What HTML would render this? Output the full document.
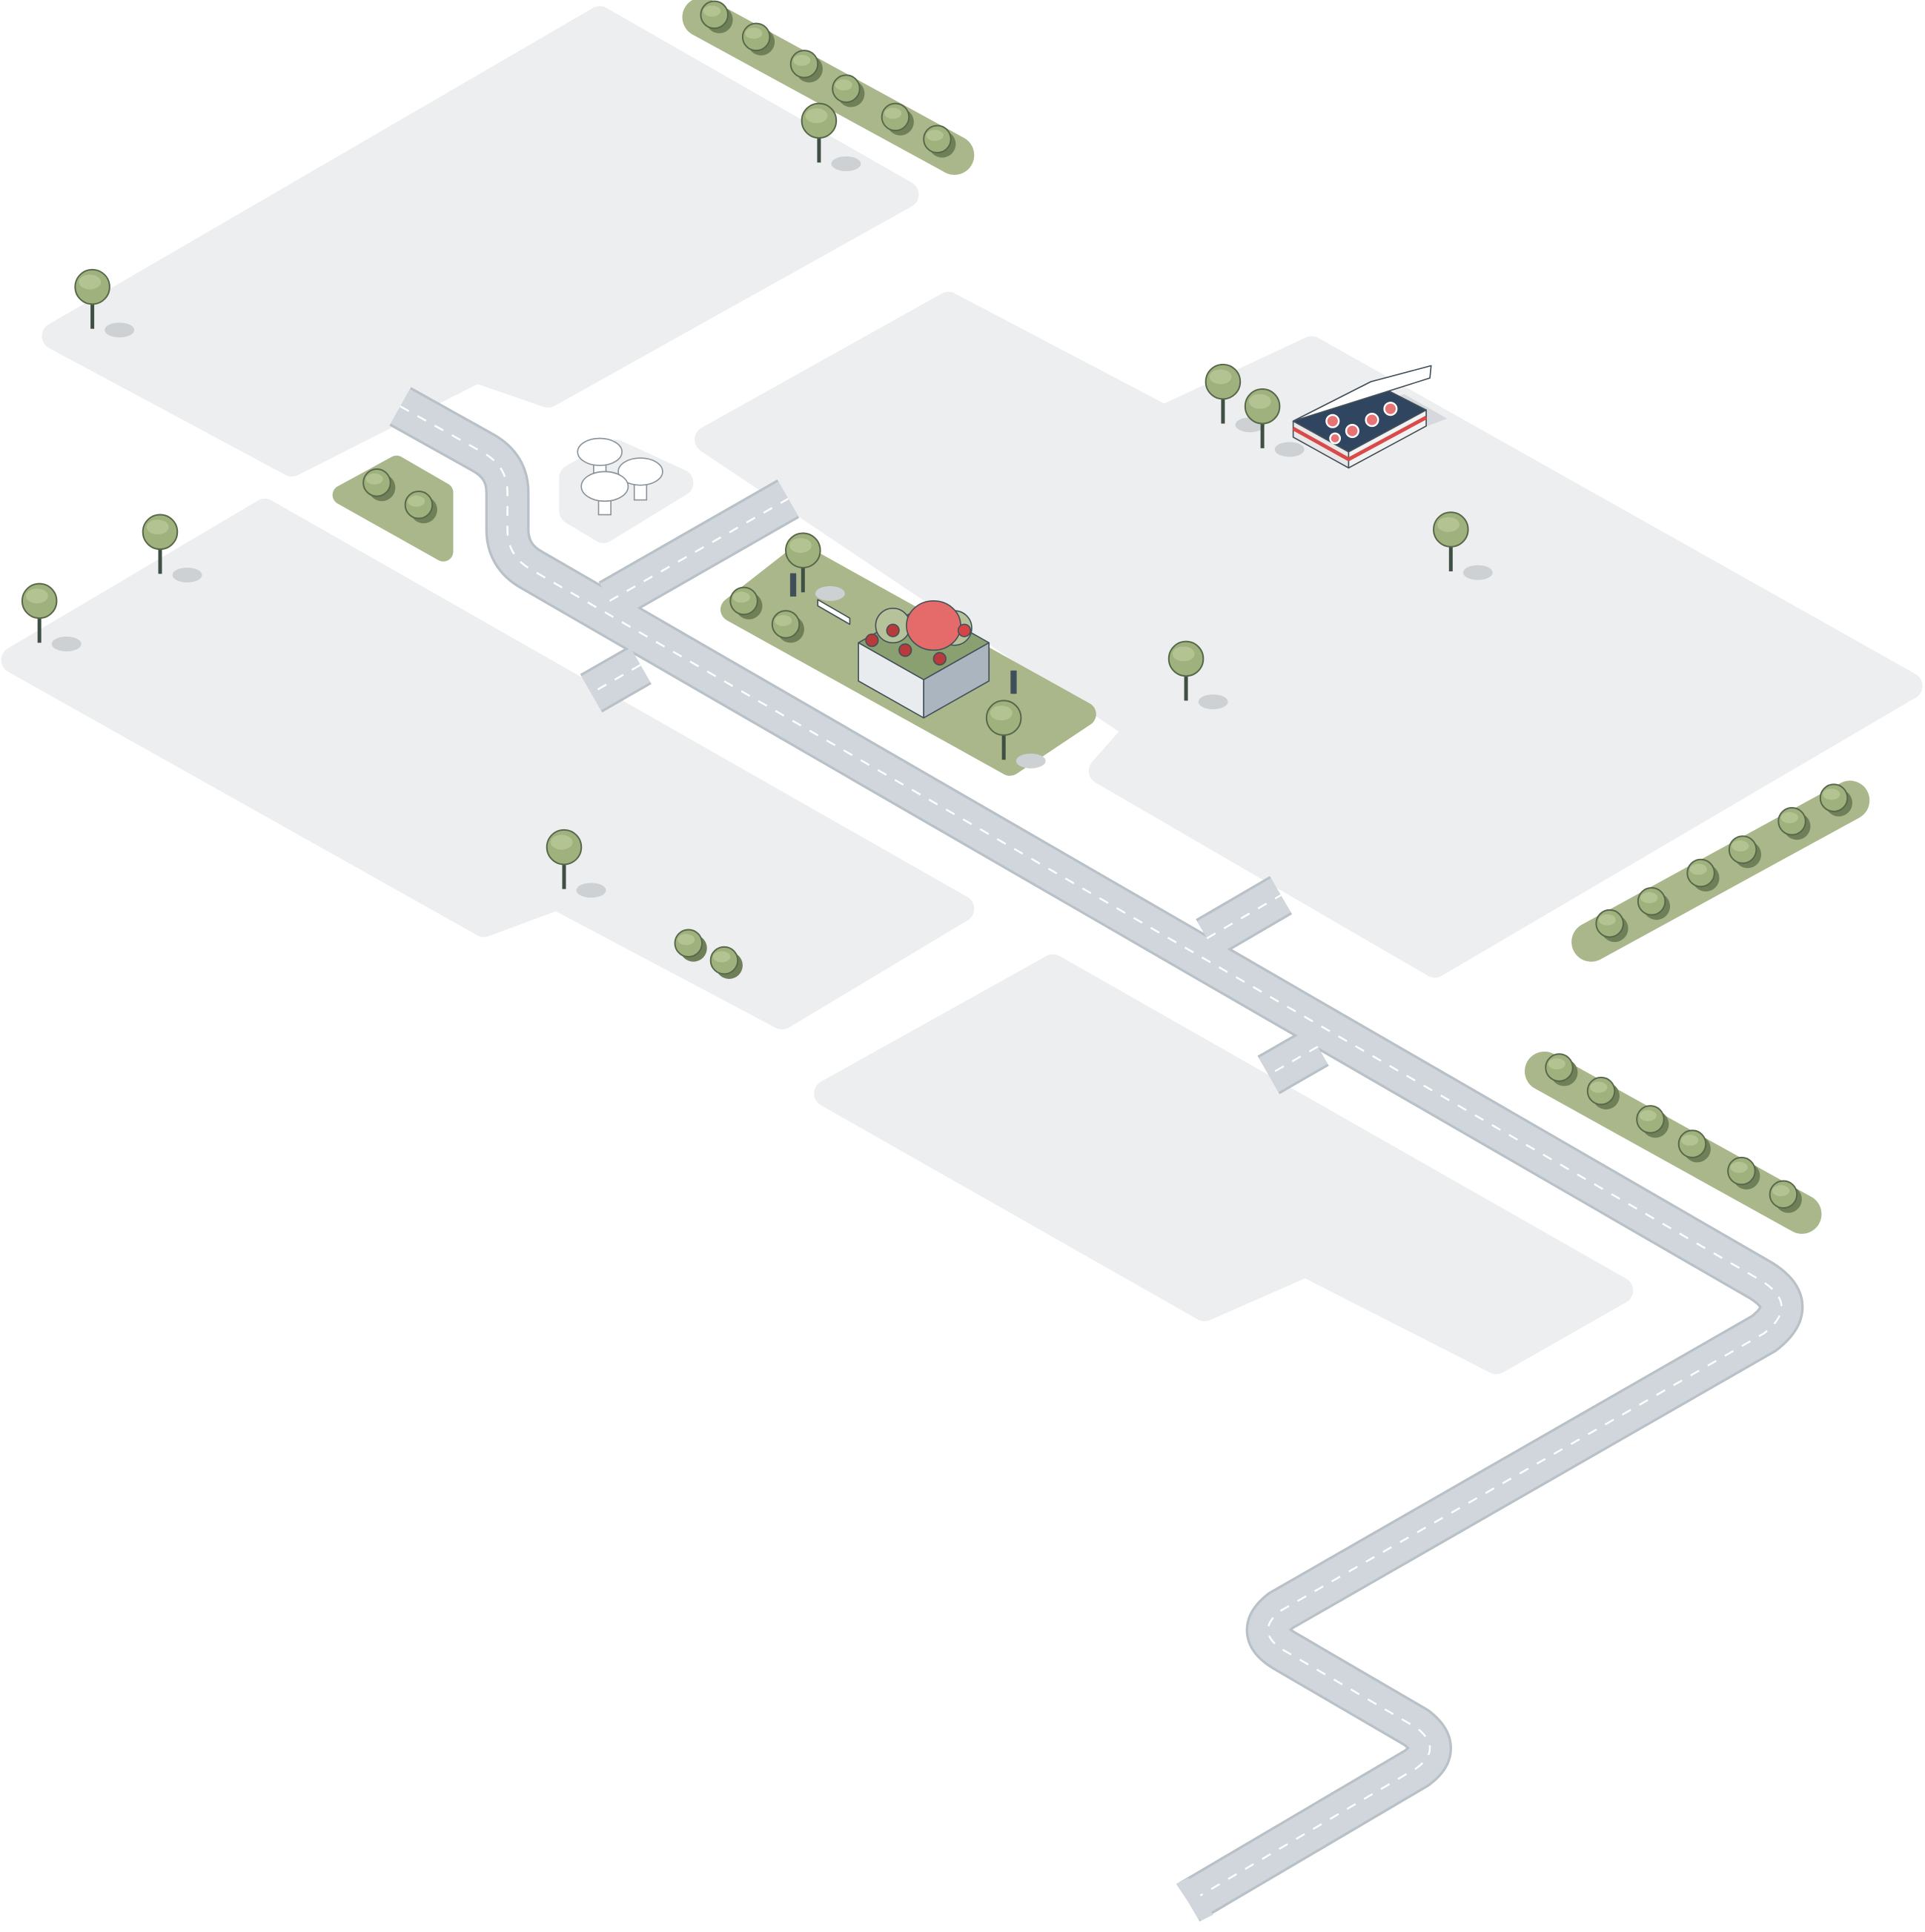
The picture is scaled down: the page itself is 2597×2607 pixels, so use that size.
<!DOCTYPE html>
<html><head><meta charset="utf-8"><style>html,body{margin:0;padding:0;background:#fff}svg{display:block}</style></head>
<body>
<svg width="2597" height="2607" viewBox="0 0 1563 1569" preserveAspectRatio="none" xmlns="http://www.w3.org/2000/svg">
<defs>
<g id="tree"><ellipse cx="22" cy="35" rx="12" ry="6" fill="#cdd1d4"/><rect x="-1.5" y="0" width="3" height="34" fill="#3f4f44"/><circle cx="0" cy="0" r="14" fill="#9fb27e" stroke="#58684a" stroke-width="1.2"/><ellipse cx="-2" cy="-4" rx="9" ry="6" fill="#b3c392"/></g>
<g id="bush"><circle cx="4" cy="4" r="11" fill="#6f8058"/><circle cx="0" cy="0" r="11" fill="#9fb27e" stroke="#58684a" stroke-width="1.2"/><ellipse cx="-2" cy="-3" rx="7" ry="4.5" fill="#b3c392"/></g>
</defs>
<g fill="#eceeef" stroke="#eceeef" stroke-width="22" stroke-linejoin="round">
<polygon points="487,16 735,158 445,320 387,300 237,376 45,273"/>
<polygon points="215,416 780,738 635,825 452,728 393,750 12,536"/>
<polygon points="770,248 945,340 1065,284 1550,557 1165,783 895,626 925,592 575,357"/>
<polygon points="855,786 1315,1048 1215,1105 1060,1026 978,1062 672,888"/>
<polygon points="500,368 552,392 490,430 465,415 465,388"/>
</g>
<g fill="#a9b78a" stroke="#a9b78a" stroke-linejoin="round">
<line x1="570" y1="14" x2="775" y2="126" stroke-width="32" stroke-linecap="round"/>
<polygon points="322,378 360,400 360,448 278,402" stroke-width="16"/>
<polygon points="650,452 880,580 820,620 595,495" stroke-width="20"/>
<line x1="1292" y1="765" x2="1502" y2="650" stroke-width="32" stroke-linecap="round"/>
<line x1="1254" y1="870" x2="1463" y2="986" stroke-width="32" stroke-linecap="round"/>
</g>
<g fill="none" stroke-linejoin="round">
<g stroke="#b9c1c8" stroke-width="36">
<path d="M325,330 L393,368 Q412,379 412,400 L412,430 Q412,452 432,463 L1430,1040 Q1462,1060 1432,1083 L1040,1308 Q1018,1325 1042,1340 L1150,1403 Q1172,1420 1150,1436 L965,1545"/>
<path d="M495,488 L640,405 M520,540 L480,563 M980,762 L1040,727 M1070,850 L1030,873"/>
</g>
<g stroke="#d0d6dc" stroke-width="32">
<path d="M325,330 L393,368 Q412,379 412,400 L412,430 Q412,452 432,463 L1430,1040 Q1462,1060 1432,1083 L1040,1308 Q1018,1325 1042,1340 L1150,1403 Q1172,1420 1150,1436 L965,1545"/>
<path d="M495,488 L640,405 M520,540 L480,563 M980,762 L1040,727 M1070,850 L1030,873"/>
</g>
<g stroke="#ffffff" stroke-width="1.5" stroke-dasharray="8,8">
<path d="M325,330 L393,368 Q412,379 412,400 L412,430 Q412,452 432,463 L1430,1040 Q1462,1060 1432,1083 L1040,1308 Q1018,1325 1042,1340 L1150,1403 Q1172,1420 1150,1436 L965,1545"/>
<path d="M495,488 L640,405 M520,540 L480,563 M980,762 L1040,727 M1070,850 L1030,873"/>
</g>
</g>
<polygon points="955,1530 975,1560 985,1555 965,1525" fill="#d0d6dc"/>
<g>
<use href="#bush" x="580" y="12"/><use href="#bush" x="614" y="30"/><use href="#bush" x="653" y="52"/><use href="#bush" x="687" y="72"/><use href="#bush" x="727" y="95"/><use href="#bush" x="761" y="113"/>
<use href="#bush" x="306" y="392"/><use href="#bush" x="340" y="410"/>
<use href="#bush" x="604" y="488"/><use href="#bush" x="638" y="507"/>
<use href="#bush" x="559" y="766"/><use href="#bush" x="588" y="780"/>
<use href="#bush" x="1307" y="750"/><use href="#bush" x="1341" y="732"/><use href="#bush" x="1381" y="709"/><use href="#bush" x="1415" y="690"/><use href="#bush" x="1455" y="667"/><use href="#bush" x="1489" y="648"/>
<use href="#bush" x="1266" y="867"/><use href="#bush" x="1300" y="886"/><use href="#bush" x="1340" y="909"/><use href="#bush" x="1374" y="929"/><use href="#bush" x="1414" y="951"/><use href="#bush" x="1448" y="970"/>
</g>
<g>
<use href="#tree" x="75" y="233"/><use href="#tree" x="665" y="98"/><use href="#tree" x="130" y="432"/><use href="#tree" x="32" y="488"/><use href="#tree" x="458" y="688"/><use href="#tree" x="993" y="310"/><use href="#tree" x="1025" y="330"/><use href="#tree" x="1178" y="430"/><use href="#tree" x="963" y="535"/><use href="#tree" x="652" y="447"/><use href="#tree" x="815" y="583"/>
</g>
<g fill="#fff" stroke="#8a949c" stroke-width="1">
<rect x="482" y="372" width="10" height="16"/><ellipse cx="487" cy="367" rx="18" ry="11"/>
<rect x="515" y="388" width="10" height="18"/><ellipse cx="520" cy="383" rx="18" ry="11"/>
<rect x="486" y="400" width="10" height="18"/><ellipse cx="491" cy="395" rx="19" ry="12"/>
</g>
<g stroke="#44505a" stroke-width="1" stroke-linejoin="round">
<polygon points="1060,350 1095,370 1175,340 1140,320" fill="#d5d9dd" stroke="none"/>
<polygon points="1050,342 1095,367 1158,333 1113,310" fill="#2f4560"/>
<polygon points="1050,342 1095,367 1095,380 1050,355" fill="#e8e8e8"/>
<polygon points="1095,367 1158,333 1158,346 1095,380" fill="#f2f2f2"/>
<polyline points="1050,348 1095,373 1158,339" fill="none" stroke="#d94a4a" stroke-width="3"/>
<polygon points="1050,342 1113,310 1162,297 1161,307 1050,342" fill="#fff"/>
</g>
<g fill="#e87575" stroke="#fff" stroke-width="1.5">
<circle cx="1082" cy="342" r="5"/><circle cx="1098" cy="350" r="5"/><circle cx="1114" cy="341" r="5"/><circle cx="1129" cy="332" r="5"/><circle cx="1084" cy="356" r="4"/>
</g>
<g stroke="#44505a" stroke-width="1" stroke-linejoin="round">
<polygon points="697,522 750,552 803,522 750,492" fill="#8aa070"/>
<polygon points="697,522 750,552 750,583 697,553" fill="#e9ecef"/>
<polygon points="750,552 803,522 803,553 750,583" fill="#aab5c0"/>
<circle cx="725" cy="508" r="14" fill="#b6c39a"/><circle cx="775" cy="510" r="14" fill="#b6c39a"/>
<ellipse cx="758" cy="508" rx="22" ry="20" fill="#e56a6a"/>
<circle cx="708" cy="520" r="5" fill="#b83a3a"/><circle cx="735" cy="528" r="5" fill="#b83a3a"/><circle cx="783" cy="512" r="5" fill="#d64545"/><circle cx="763" cy="535" r="5" fill="#b83a3a"/><circle cx="725" cy="512" r="5" fill="#b83a3a"/>
<polygon points="664,487 690,502 690,507 664,492" fill="#fff"/>
<rect x="642" y="466" width="4" height="18" fill="#3f4f5a"/><rect x="821" y="545" width="4" height="18" fill="#3f4f5a"/>
</g>
</svg>
</body></html>
